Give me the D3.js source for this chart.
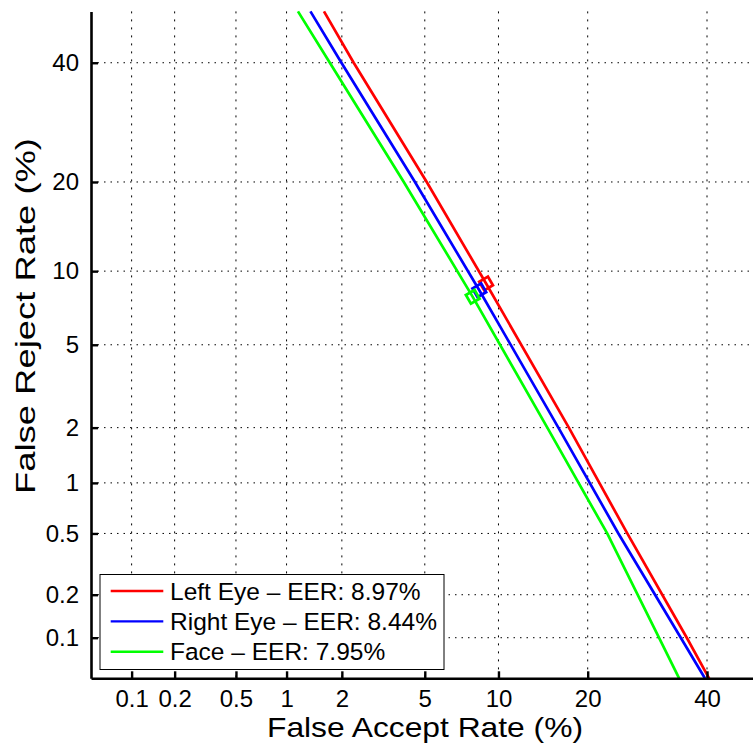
<!DOCTYPE html>
<html>
<head>
<meta charset="utf-8">
<script src="https://cdn.jsdelivr.net/npm/d3@7"></script>
<style>
  body { margin: 0; background: #fff; }
  svg { display: block; font-family: "Liberation Sans", Arial, sans-serif; }
</style>
</head>
<body>
<div id="chart"></div>
<script>
// DET curves, values in percent: [false accept, false reject]
var leftEye  = [[1.61, 50], [2.30, 40], [5.1, 20], [8.97, 8.97], [17.5, 2], [25.9, 0.5], [36.2, 0.1], [40.4, 0.05]];
var rightEye = [[1.36, 50], [1.99, 40], [4.52, 20], [8.44, 8.44], [16.2, 2], [24.5, 0.5], [35.1, 0.1], [39.6, 0.05]];
var face     = [[1.16, 50], [1.73, 40], [4.02, 20], [7.95, 7.95], [14.9, 2], [22.8, 0.5], [31.2, 0.1], [34.8, 0.05]];

var seriesNames = ["Left Eye \u2013 EER: 8.97%", "Right Eye \u2013 EER: 8.44%", "Face \u2013 EER: 7.95%"];
var eerValues = [8.97, 8.44, 7.95];
var xTicks = [0.1, 0.2, 0.5, 1, 2, 5, 10, 20, 40];
var yTicks = [0.1, 0.2, 0.5, 1, 2, 5, 10, 20, 40];
var axisLimits = [0.05, 50];

var colors = ["#ff0000", "#0000ff", "#00ff00"];
var series = [leftEye, rightEye, face];

// inverse normal cdf (Acklam)
function probit(p) {
    var a = [-3.969683028665376e+01, 2.209460984245205e+02, -2.759285104469687e+02, 1.383577518672690e+02, -3.066479806614716e+01, 2.506628277459239e+00];
    var b = [-5.447609879822406e+01, 1.615858368580409e+02, -1.556989798598866e+02, 6.680131188771972e+01, -1.328068155288572e+01];
    var c = [-7.784894002430293e-03, -3.223964580411365e-01, -2.400758277161838e+00, -2.549732539343734e+00, 4.374664141464968e+00, 2.938163982698783e+00];
    var d = [7.784695709041462e-03, 3.224671290700398e-01, 2.445134137142996e+00, 3.754408661907416e+00];
    var plow = 0.02425, q, r;
    if (p < plow) {
        q = Math.sqrt(-2 * Math.log(p));
        return (((((c[0]*q+c[1])*q+c[2])*q+c[3])*q+c[4])*q+c[5]) / ((((d[0]*q+d[1])*q+d[2])*q+d[3])*q+1);
    } else if (p <= 1 - plow) {
        q = p - 0.5; r = q * q;
        return (((((a[0]*r+a[1])*r+a[2])*r+a[3])*r+a[4])*r+a[5])*q / (((((b[0]*r+b[1])*r+b[2])*r+b[3])*r+b[4])*r+1);
    }
    q = Math.sqrt(-2 * Math.log(1 - p));
    return -(((((c[0]*q+c[1])*q+c[2])*q+c[3])*q+c[4])*q+c[5]) / ((((d[0]*q+d[1])*q+d[2])*q+d[3])*q+1);
}

// normal deviate scale usable by d3.axis
function detScale(range) {
    var lin = d3.scaleLinear()
        .domain([probit(axisLimits[0] / 100), probit(axisLimits[1] / 100)])
        .range(range);
    function s(v) { return lin(probit(v / 100)); }
    s.range = function() { return lin.range(); };
    s.domain = function() { return axisLimits.slice(); };
    s.copy = function() { return detScale(lin.range()); };
    return s;
}

var width = 753, height = 749;
var plot = {left: 91, right: 758.4, top: 11.4, bottom: 678.3};

var svg = d3.select("#chart").append("svg")
    .attr("width", width)
    .attr("height", height);

var x = detScale([plot.left, plot.right]);
var y = detScale([plot.bottom, plot.top]);

// grid
var grid = svg.append("g").attr("class", "grid");
grid.selectAll(".vgrid").data(xTicks).enter().append("line")
    .attr("x1", function(d) { return x(d); })
    .attr("x2", function(d) { return x(d); })
    .attr("y1", plot.top)
    .attr("y2", plot.bottom)
    .attr("stroke", "#000")
    .attr("stroke-width", 1)
    .attr("stroke-dasharray", "2,6");
grid.selectAll(".hgrid").data(yTicks).enter().append("line")
    .attr("x1", plot.left)
    .attr("x2", width)
    .attr("y1", function(d) { return y(d); })
    .attr("y2", function(d) { return y(d); })
    .attr("stroke", "#000")
    .attr("stroke-width", 1)
    .attr("stroke-dasharray", "1.5,5");

// curves
var line = d3.line()
    .x(function(d) { return x(d[0]); })
    .y(function(d) { return y(d[1]); });

svg.selectAll(".det").data(series).enter().append("path")
    .attr("class", "det")
    .attr("d", line)
    .attr("fill", "none")
    .attr("stroke", function(d, i) { return colors[i]; })
    .attr("stroke-width", 2.7);

// EER markers
svg.selectAll(".eer").data(eerValues).enter().append("rect")
    .attr("class", "eer")
    .attr("x", -5).attr("y", -5)
    .attr("width", 10).attr("height", 10)
    .attr("transform", function(d) { return "translate(" + x(d) + "," + y(d) + ") rotate(-30)"; })
    .attr("fill", "none")
    .attr("stroke", function(d, i) { return colors[i]; })
    .attr("stroke-width", 2.8);

// axes
var xAxis = d3.axisBottom(x).tickValues(xTicks).tickFormat(d3.format("")).tickSizeInner(-7).tickSizeOuter(0).tickPadding(12);
var yAxis = d3.axisLeft(y).tickValues(yTicks).tickFormat(d3.format("")).tickSizeInner(-7).tickSizeOuter(0).tickPadding(12);

var gx = svg.append("g")
    .attr("transform", "translate(0," + plot.bottom + ")")
    .call(xAxis);
var gy = svg.append("g")
    .attr("transform", "translate(" + plot.left + ",0)")
    .call(yAxis);

[gx, gy].forEach(function(g) {
    g.selectAll(".domain").attr("stroke", "#000").attr("stroke-width", 2.6);
    g.selectAll(".tick line").attr("stroke", "#000").attr("stroke-width", 2.4);
    g.selectAll("text")
        .attr("fill", "#000")
        .style("font-family", "'Liberation Sans', Arial, sans-serif")
        .style("font-size", "24px");
});

// legend
var legend = svg.append("g").attr("class", "legend");
legend.append("rect")
    .attr("x", 100).attr("y", 574.5)
    .attr("width", 344).attr("height", 95)
    .attr("fill", "#fff")
    .attr("stroke", "#000")
    .attr("stroke-width", 1);
var items = legend.selectAll(".item").data(seriesNames).enter().append("g")
    .attr("transform", function(d, i) { return "translate(0," + (591 + i * 30.4) + ")"; });
items.append("line")
    .attr("x1", 110.7).attr("x2", 163.3)
    .attr("stroke", function(d, i) { return colors[i]; })
    .attr("stroke-width", 2.4);
items.append("text")
    .attr("x", 170)
    .attr("dy", "0.35em")
    .style("font-size", "24.5px")
    .text(function(d) { return d; });

// titles
svg.append("text")
    .attr("x", 425)
    .attr("y", 737)
    .attr("text-anchor", "middle")
    .attr("textLength", 316)
    .attr("lengthAdjust", "spacingAndGlyphs")
    .style("font-size", "28px")
    .text("False Accept Rate (%)");

svg.append("text")
    .attr("transform", "translate(35,316) rotate(-90)")
    .attr("text-anchor", "middle")
    .attr("textLength", 356)
    .attr("lengthAdjust", "spacingAndGlyphs")
    .style("font-size", "28px")
    .text("False Reject Rate (%)");
</script>
</body>
</html>
